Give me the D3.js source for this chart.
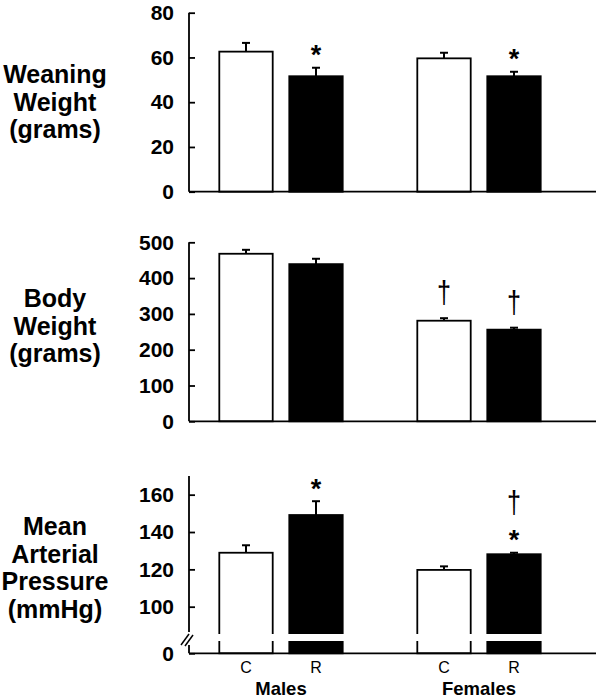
<!DOCTYPE html>
<html>
<head>
<meta charset="utf-8">
<script src="https://cdn.jsdelivr.net/npm/d3@7/dist/d3.min.js"></script>
<style>
  body { margin: 0; background: #fff; }
  text { font-family: "Liberation Sans", Arial, sans-serif; fill: #000; }
</style>
</head>
<body>
<div id="chart"></div>
<script>
// groups and treatments along x
var groups = ["Males", "Females"];
var treatments = ["C", "R"];

// values in order Males C, Males R, Females C, Females R
var weaningMean = [62.6, 51.6, 59.6, 51.6];
var weaningSem = [3.9, 3.8, 2.5, 2.0];
var weaningMarks = ["", "*", "", "*"];
var weaningTicks = [0, 20, 40, 60, 80];

var bodyMean = [468, 439, 281, 256];
var bodySem = [11, 15, 7, 5.5];
var bodyMarks = ["", "", "†", "†"];
var bodyTicks = [0, 100, 200, 300, 400, 500];

var mapMean = [128.9, 149.1, 119.7, 128.1];
var mapSem = [4.0, 7.4, 1.9, 0.8];
var mapMarks = ["", "*", "", "†*"];
var mapTicks = [0, 100, 120, 140, 160];

var width = 600, height = 699;
var axisX = 189, axisRight = 596;

var svg = d3.select("#chart")
    .append("svg")
    .attr("width", width)
    .attr("height", height);

// x scales: group position, then treatment inside group
var x0 = d3.scalePoint().domain(groups).range([281, 479]);
var x1 = d3.scaleBand().domain(treatments).range([-61.7, 61.7]).paddingInner(0.237);

var panels = [
  { label: ["Weaning", "Weight", "(grams)"], labelY: 83,
    mean: weaningMean, sem: weaningSem, marks: weaningMarks, ticks: weaningTicks,
    y: d3.scaleLinear().domain([0, 80]).range([191.7, 12.7]), top: 80 },
  { label: ["Body", "Weight", "(grams)"], labelY: 307,
    mean: bodyMean, sem: bodySem, marks: bodyMarks, ticks: bodyTicks,
    y: d3.scaleLinear().domain([0, 500]).range([421.3, 242.3]), top: 500 },
  { label: ["Mean", "Arterial", "Pressure", "(mmHg)"], labelY: 535,
    mean: mapMean, sem: mapSem, marks: mapMarks, ticks: mapTicks,
    // broken axis: 0..85 squeezed into the bottom strip
    y: d3.scaleLinear().domain([0, 85, 170]).range([653.3, 634.7, 476]), top: 170, broken: true }
];

var rows = [];
groups.forEach(function(g) {
  treatments.forEach(function(t) { rows.push({ group: g, treat: t }); });
});

panels.forEach(function(p, pi) {
  var g = svg.append("g");
  var y = p.y;
  var y0 = y(0);

  // left label
  p.label.forEach(function(line, i) {
    g.append("text")
      .attr("x", 55)
      .attr("y", p.labelY + i * 27.5)
      .attr("text-anchor", "middle")
      .attr("font-size", "25px")
      .attr("font-weight", "bold")
      .text(line);
  });

  var data = rows.map(function(r, i) {
    return { group: r.group, treat: r.treat, mean: p.mean[i], sem: p.sem[i], mark: p.marks[i] };
  });

  // bars
  g.selectAll(".bar")
    .data(data)
    .enter()
    .append("rect")
    .attr("x", function(d) { return x0(d.group) + x1(d.treat); })
    .attr("width", x1.bandwidth())
    .attr("y", function(d) { return y(d.mean); })
    .attr("height", function(d) { return y0 - y(d.mean); })
    .attr("fill", function(d) { return d.treat === "C" ? "#fff" : "#000"; })
    .attr("stroke", "#000")
    .attr("stroke-width", 1.8);

  // error bars (upper only)
  var err = g.selectAll(".err")
    .data(data)
    .enter()
    .append("g")
    .attr("stroke", "#000")
    .attr("stroke-width", 2);
  err.append("line")
    .attr("x1", function(d) { return x0(d.group) + x1(d.treat) + x1.bandwidth() / 2; })
    .attr("x2", function(d) { return x0(d.group) + x1(d.treat) + x1.bandwidth() / 2; })
    .attr("y1", function(d) { return y(d.mean); })
    .attr("y2", function(d) { return y(d.mean + d.sem); });
  err.append("line")
    .attr("x1", function(d) { return x0(d.group) + x1(d.treat) + x1.bandwidth() / 2 - 4; })
    .attr("x2", function(d) { return x0(d.group) + x1(d.treat) + x1.bandwidth() / 2 + 4; })
    .attr("y1", function(d) { return y(d.mean + d.sem); })
    .attr("y2", function(d) { return y(d.mean + d.sem); });

  // significance marks: * sits ~19px above error cap, † above that
  data.forEach(function(d) {
    if (!d.mark) return;
    var cx = x0(d.group) + x1(d.treat) + x1.bandwidth() / 2;
    var top = y(d.mean + d.sem);
    var bottom = top;
    if (d.mark.indexOf("*") >= 0) {
      var cy = top - 19;
      g.append("text")
        .attr("x", cx)
        .attr("y", cy + 0.58 * 27)
        .attr("text-anchor", "middle")
        .attr("font-size", "27px")
        .attr("font-weight", "bold")
        .text("*");
      bottom = cy - 6;
    }
    if (d.mark.indexOf("†") >= 0) {
      // thin tall dagger, stretched vertically
      g.append("text")
        .attr("transform", "translate(" + cx + "," + (bottom - 15) + ") scale(0.9,1.12)")
        .attr("text-anchor", "middle")
        .attr("font-size", "28px")
        .text("†");
    }
  });

  // axis break band
  if (p.broken) {
    g.append("rect")
      .attr("x", axisX + 8)
      .attr("y", 634)
      .attr("width", 380)
      .attr("height", 7)
      .attr("fill", "#fff");
  }

  // y axis, ticks pointing inward
  var yAxis = g.append("g")
    .attr("transform", "translate(" + axisX + ",0)")
    .call(d3.axisLeft(y).tickValues(p.ticks).tickSize(-6).tickSizeOuter(0).tickPadding(15));
  yAxis.select(".domain").remove();
  yAxis.selectAll(".tick line").attr("stroke", "#000").attr("stroke-width", 1.8);
  yAxis.selectAll(".tick text")
    .attr("font-family", "Liberation Sans, Arial, sans-serif")
    .attr("font-size", "21px")
    .attr("font-weight", "bold")
    .attr("fill", "#000");

  if (p.broken) {
    g.append("line").attr("x1", axisX).attr("x2", axisX)
      .attr("y1", y(p.top)).attr("y2", 632)
      .attr("stroke", "#000").attr("stroke-width", 1.8);
    g.append("line").attr("x1", axisX).attr("x2", axisX)
      .attr("y1", 645).attr("y2", y0)
      .attr("stroke", "#000").attr("stroke-width", 1.8);
    g.append("line").attr("x1", 181).attr("y1", 645).attr("x2", 189).attr("y2", 634)
      .attr("stroke", "#000").attr("stroke-width", 1.5);
    g.append("line").attr("x1", 185).attr("y1", 646).attr("x2", 193).attr("y2", 635)
      .attr("stroke", "#000").attr("stroke-width", 1.5);
  } else {
    g.append("line").attr("x1", axisX).attr("x2", axisX)
      .attr("y1", y(p.top)).attr("y2", y0)
      .attr("stroke", "#000").attr("stroke-width", 1.8);
  }

  // x baseline
  g.append("line")
    .attr("x1", axisX).attr("x2", axisRight)
    .attr("y1", y0).attr("y2", y0)
    .attr("stroke", "#000").attr("stroke-width", 1.8);

  // category labels under the last panel
  if (pi === panels.length - 1) {
    g.selectAll(".tl")
      .data(data)
      .enter()
      .append("text")
      .attr("x", function(d) { return x0(d.group) + x1(d.treat) + x1.bandwidth() / 2; })
      .attr("y", 673.3)
      .attr("text-anchor", "middle")
      .attr("font-size", "16px")
      .text(function(d) { return d.treat; });
    g.selectAll(".gl")
      .data(groups)
      .enter()
      .append("text")
      .attr("x", function(d) { return x0(d); })
      .attr("y", 695)
      .attr("text-anchor", "middle")
      .attr("font-size", "18.5px")
      .attr("font-weight", "bold")
      .text(function(d) { return d; });
  }
});
</script>
</body>
</html>
